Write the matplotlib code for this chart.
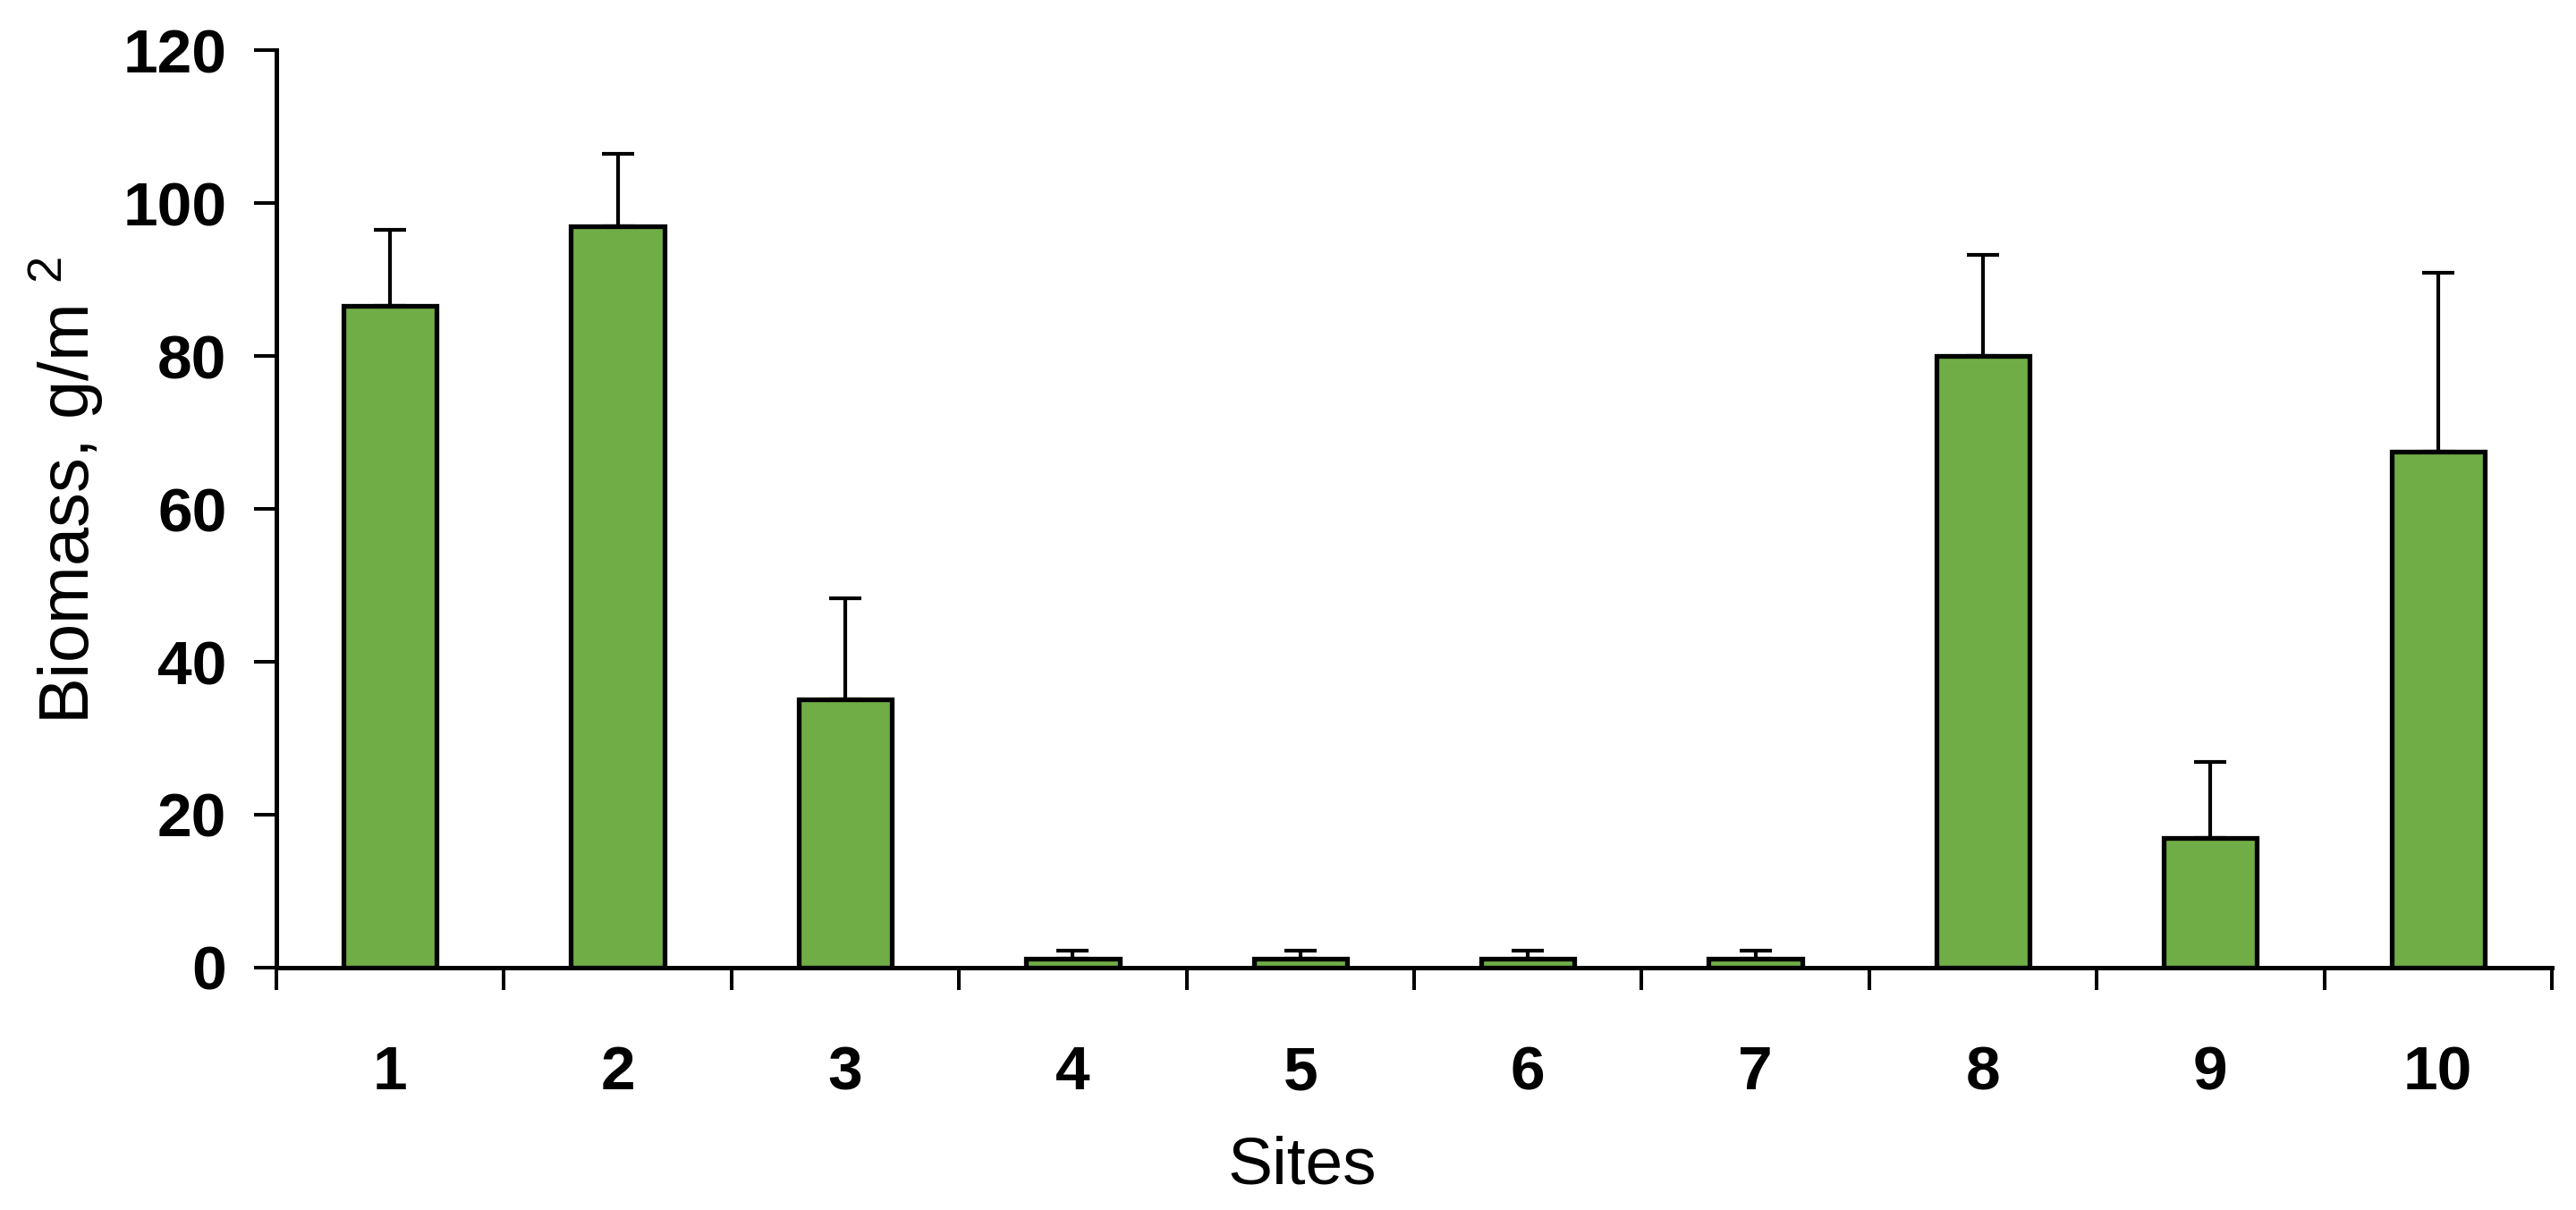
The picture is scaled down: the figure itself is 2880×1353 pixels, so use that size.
import matplotlib
import numpy as np
import matplotlib.pyplot as plt
matplotlib.use('Agg')

sites = ['1', '2', '3', '4', '5', '6', '7', '8', '9', '10']
biomass = [86.6, 97.0, 35.1, 1.2, 1.2, 1.2, 1.2, 80.0, 17.0, 67.5]
error_up = [9.9, 9.4, 13.2, 1.0, 1.0, 1.0, 1.0, 13.2, 9.9, 23.4]
y_ticks = [0, 20, 40, 60, 80, 100, 120]

plt.rcParams['font.family'] = ['Liberation Sans', 'DejaVu Sans']
plt.rcParams['mathtext.fontset'] = 'custom'
plt.rcParams['mathtext.rm'] = 'Liberation Sans'

fig = plt.figure(figsize=(28.8, 13.53), dpi=100)
ax = fig.add_axes([0.1073, 0.2003, 0.8833, 0.7583])

centers = np.arange(len(sites)) + 0.5
ax.bar(centers, biomass, width=0.41, color='#70AD47', edgecolor='black', linewidth=3.8, zorder=2)
ax.errorbar(centers, biomass, yerr=[np.zeros(len(sites)), error_up], fmt='none',
            ecolor='black', elinewidth=3.0, capsize=13, capthick=3.0, zorder=3)

ax.set_xlim(0, len(sites))
ax.set_ylim(0, 120)
ax.set_yticks(y_ticks)
ax.set_yticklabels([str(t) for t in y_ticks], fontsize=50, fontweight='bold')

# tick marks sit on the category boundaries, labels in the middle
ax.set_xticks(np.arange(len(sites) + 1))
ax.set_xticklabels([])
ax.set_xticks(centers, minor=True)
ax.set_xticklabels(sites, minor=True, fontsize=50, fontweight='bold')
ax.tick_params(axis='x', which='major', length=18, width=2.9, direction='out')
ax.tick_params(axis='x', which='minor', length=0, pad=62)
ax.tick_params(axis='y', length=18, width=2.9, direction='out', pad=22)

for side in ['top', 'right']:
    ax.spines[side].set_visible(False)
for side in ['left', 'bottom']:
    ax.spines[side].set_linewidth(3.6)

ax.set_xlabel('Sites', fontsize=54)
ax.xaxis.set_label_coords(0.451, -0.183)
ax.set_ylabel('Biomass, g/m $^{2}$', fontsize=56)
ax.yaxis.set_label_coords(-0.075, 0.52)

fig.savefig('out.png', dpi=100)
